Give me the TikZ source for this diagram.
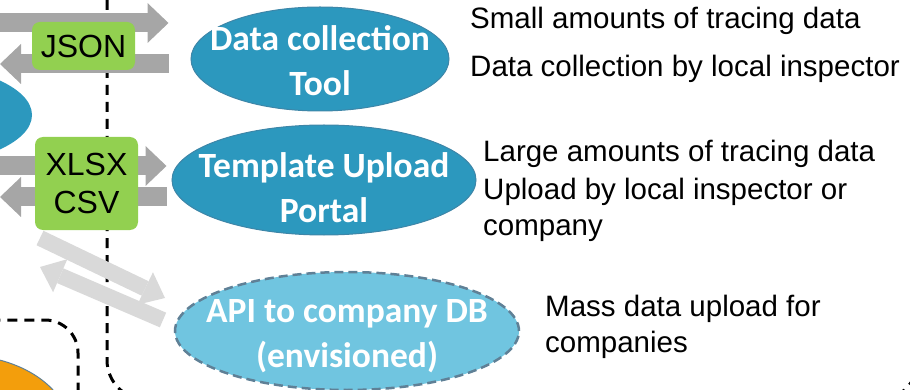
\documentclass[tikz,border=0pt]{standalone}
\usepackage{fontspec}
\setmainfont{Liberation Sans}
\newfontfamily\calibri{Carlito}
\usetikzlibrary{shapes.geometric,arrows.meta}

\definecolor{tealblue}{RGB}{44,152,190}
\definecolor{tealedge}{RGB}{62,134,168}
\definecolor{skyblue}{RGB}{112,197,224}
\definecolor{skyedge}{RGB}{95,128,150}
\definecolor{limegreen}{RGB}{146,208,80}
\definecolor{darkorange}{RGB}{243,158,12}

\tikzset{
  bubbletext/.style={text=white, align=center, inner sep=0pt,
    font=\calibri\bfseries\fontsize{35.5}{45}\selectfont},
  bubble/.style={ellipse, fill=tealblue, draw=tealedge, line width=1pt, inner sep=0pt},
  planned/.style={bubble, fill=skyblue, draw=skyedge, line width=2.5pt, dash pattern=on 9pt off 5pt},
  format/.style={rounded corners=8pt, fill=limegreen, align=center, inner sep=0pt,
    minimum width=103pt, font=\fontsize{32}{38}\selectfont},
  flow/.style={line width=19pt, draw=gray!70, -{Triangle[length=21pt,width=40pt,line width=0pt]}},
  idea/.style={line width=16pt, draw=gray!30, -{Triangle[length=22pt,width=36pt,line width=0pt]}},
  note/.style={anchor=base west, align=left, inner sep=0pt, font=\fontsize{29.5}{36}\selectfont},
  border/.style={line width=3pt, dash pattern=on 10pt off 7pt},
}

\begin{document}
\begin{tikzpicture}[x=1pt,y=-1pt]
    \useasboundingbox (0,0) rectangle (910,390);

    % Borders and the cut-off shapes on the left
    \draw[border, rounded corners=40pt] (107,-40) rectangle (918,400);
    \draw[border, rounded corners=33pt] (-40,320) rectangle (78,430);
    \fill[tealblue] (-96,115) ellipse [x radius=128, y radius=52];
    \draw[fill=darkorange, draw=skyedge, line width=1pt] (-40,430) ellipse [x radius=110, y radius=75];

    % Row 1 - Data collection Tool
    \node[bubble, minimum width=258pt, minimum height=104pt,
      label={[bubbletext, yshift=-2pt]center:Data collection\\Tool}] (dct) at (320,59) {};
    \coordinate (jsonOut) at (-5,23);
    \coordinate (jsonBack) at (0,64);
    \draw[flow, shorten >=22pt] (jsonOut) -- (dct.west |- jsonOut);
    \draw[flow, shorten <=22pt] (dct.west |- jsonBack) -- (jsonBack);
    \node[format, minimum height=48pt] (json) at (83.5,46) {JSON};
    \node[note] (small) at (470,29) {Small amounts of tracing data};
    \node[note] (local) at (470,77) {Data collection by local inspector};

    % Row 2 - Template Upload Portal
    \node[bubble, minimum width=304pt, minimum height=110pt,
      label={[bubbletext, yshift=-8pt]center:Template Upload\\Portal}] (tup) at (324,180) {};
    \coordinate (fileOut) at (-5,166);
    \coordinate (fileBack) at (0,197);
    \draw[flow, shorten >=5pt] (fileOut) -- (tup.west |- fileOut);
    \draw[flow, shorten <=5pt] (tup.west |- fileBack) -- (fileBack);
    \node[format, minimum height=93pt] (xlsx) at (86.5,183.5) {XLSX\\CSV};
    \node[note] (large) at (483,162) {Large amounts of tracing data};
    \node[note] (upload) at (483,236) {Upload by local inspector or\\company};

    % Row 3 - API to company DB
    \node[planned, minimum width=344pt, minimum height=118pt,
      label={[bubbletext, yshift=-5pt]center:API to company DB\\(envisioned)}] (api) at (347,331) {};
    \coordinate (apiSend) at (40,238);
    \coordinate (apiTip) at (165,298);
    \coordinate (apiReturn) at (163,320);
    \coordinate (apiBack) at (40,267);
    \draw[idea] (apiSend) -- (apiTip);
    \draw[idea] (apiReturn) -- (apiBack);
    \node[note] (mass) at (545,352) {Mass data upload for\\companies};

\end{tikzpicture}
\end{document}
